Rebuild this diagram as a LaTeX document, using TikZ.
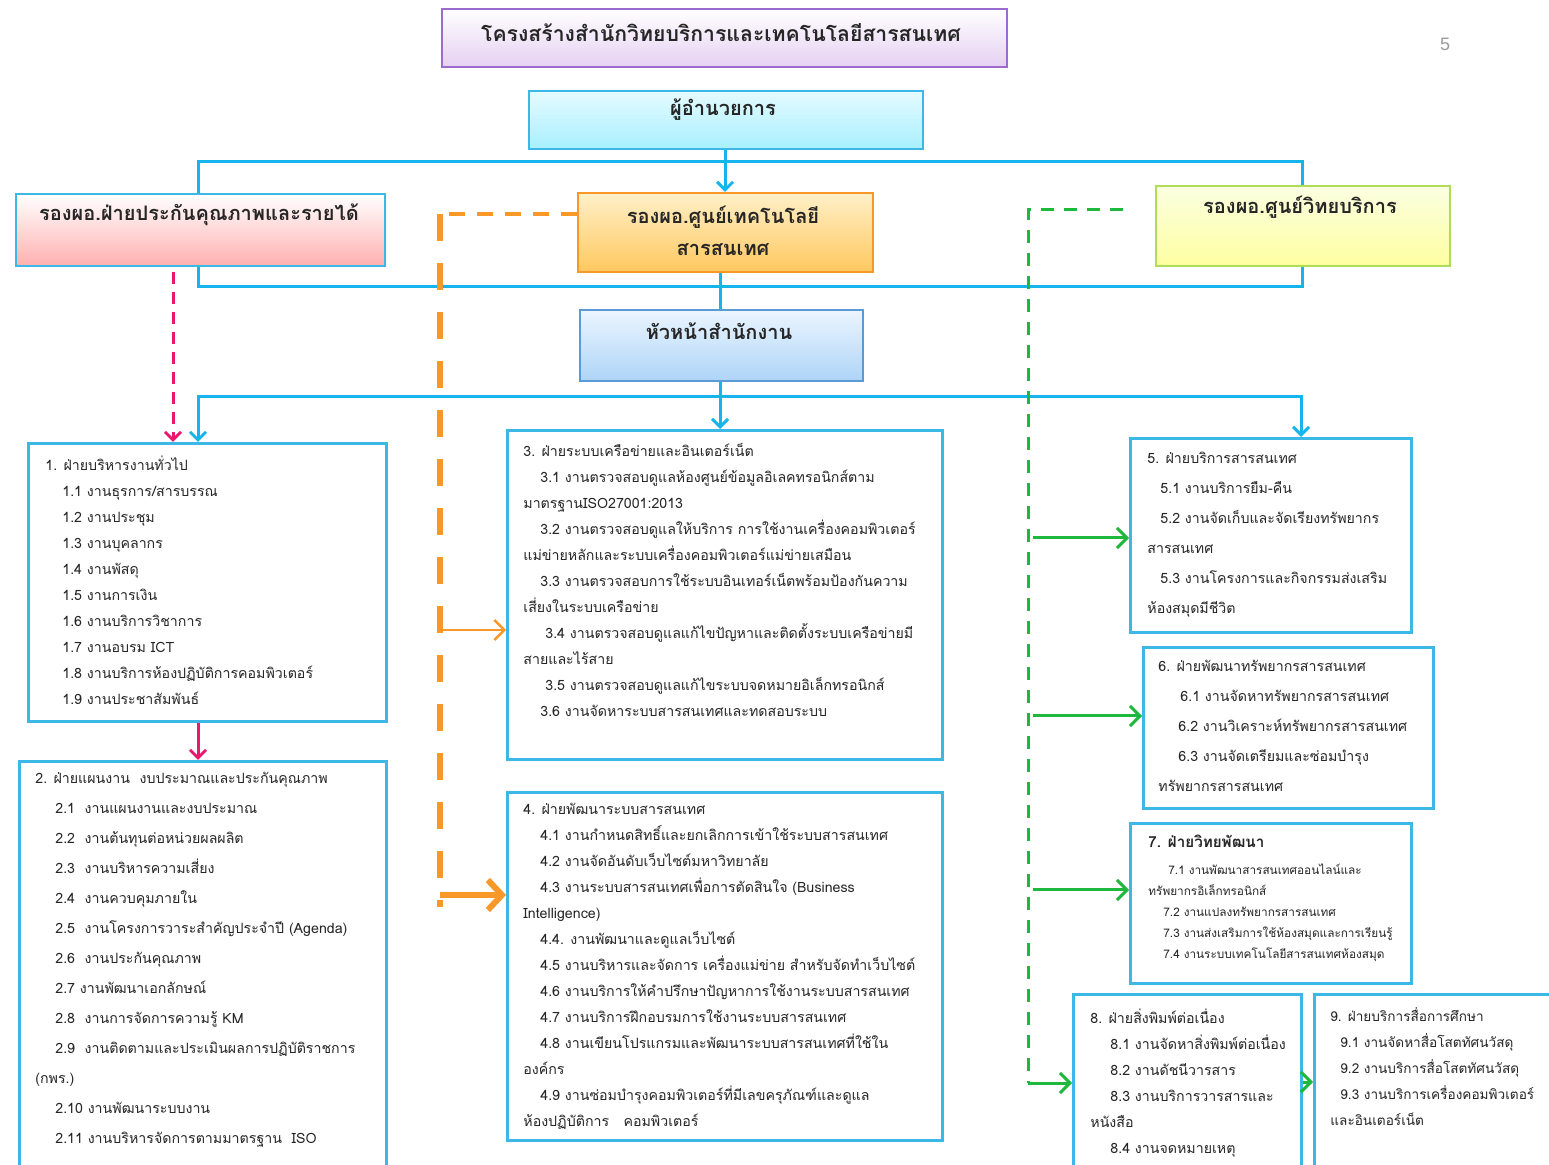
\documentclass[tikz,border=0pt]{standalone}
\usepackage{fontspec}
\newfontfamily\thai[Script=Thai]{Loma}
\usetikzlibrary{arrows.meta,calc}
\definecolor{cyanln}{RGB}{22,180,236}
\definecolor{boxcyan}{RGB}{60,184,230}
\definecolor{pinkln}{RGB}{232,24,110}
\definecolor{orangeln}{RGB}{247,152,40}
\definecolor{greenln}{RGB}{30,185,60}
\definecolor{purpleln}{RGB}{155,107,206}
\definecolor{lav}{RGB}{229,208,242}
\definecolor{dircyan}{RGB}{168,240,255}
\definecolor{pinkfill}{RGB}{255,176,176}
\definecolor{orangetop}{RGB}{255,240,200}
\definecolor{orangebot}{RGB}{255,200,95}
\definecolor{yeltop}{RGB}{250,255,225}
\definecolor{yelbot}{RGB}{255,255,160}
\definecolor{yelborder}{RGB}{175,220,90}
\definecolor{bluetop}{RGB}{235,245,255}
\definecolor{bluebot}{RGB}{174,212,247}
\definecolor{blueborder}{RGB}{91,155,213}
\newcommand{\hin}[1]{\hspace*{#1}}
\tikzset{
  unitbox/.style={draw=boxcyan, line width=1.5pt, fill=white, rectangle, inner sep=0pt, anchor=north west},
  topbox/.style={rectangle, inner sep=0pt, anchor=north west, line width=1pt},
  txt/.style={font=\thai\fontsize{7.1}{#1}\selectfont, align=left, inner sep=0pt, anchor=north west, text=black!85},
  toptxt/.style={font=\thai\bfseries\fontsize{10}{16}\selectfont, align=center, inner sep=0pt, text=black!85},
  cyanline/.style={draw=cyanln, line width=1.5pt},
  cyanarrow/.style={draw=cyanln, line width=1.5pt, -{Straight Barb[length=4pt,width=8pt]}},
  pinkdash/.style={draw=pinkln, line width=1.5pt, dash pattern=on 6pt off 4pt, -{Straight Barb[length=4pt,width=8pt]}},
  pinkarrow/.style={draw=pinkln, line width=1.5pt, -{Straight Barb[length=4pt,width=8pt]}},
  orangedashh/.style={draw=orangeln, line width=2pt, dash pattern=on 8pt off 6pt},
  orangedashv/.style={draw=orangeln, line width=3.3pt, dash pattern=on 13.5pt off 11pt},
  orangethin/.style={draw=orangeln, line width=1.2pt, -{Straight Barb[length=5pt,width=10pt]}},
  orangethick/.style={draw=orangeln, line width=3pt, -{Straight Barb[length=7pt,width=15pt]}},
  greendash/.style={draw=greenln, line width=1.5pt, dash pattern=on 6.5pt off 5pt},
  greenarrow/.style={draw=greenln, line width=1.5pt, -{Straight Barb[length=5pt,width=10pt]}},
}
\begin{document}
\begin{tikzpicture}[x=0.5pt,y=-0.5pt]
\useasboundingbox (0,0) rectangle (1549,1165);
\fill[white] (0,0) rectangle (1549,1165);
\clip (0,0) rectangle (1549,1165);

% ---------- top boxes ----------
\node[topbox, draw=purpleln, top color=white, bottom color=lav, minimum width=282.5pt, minimum height=29pt] (title) at (441,8) {};
\node[toptxt, font=\thai\bfseries\fontsize{10.6}{16}\selectfont] (titletxt) at (721,33) {โครงสร้างสำนักวิทยบริการและเทคโนโลยีสารสนเทศ};

\node[topbox, draw=boxcyan, top color=white!70!dircyan, bottom color=dircyan, minimum width=197pt, minimum height=29pt] (dir) at (528,90) {};
\node[toptxt] (dirtxt) at (723,110) {ผู้อำนวยการ};

\node[topbox, draw=boxcyan, top color=white, bottom color=pinkfill, minimum width=184.5pt, minimum height=36pt] (vpl) at (15,193) {};
\node[toptxt] (vpltxt) at (199,215) {รองผอ.ฝ่ายประกันคุณภาพและรายได้};

\node[topbox, draw=orangeln, top color=orangetop, bottom color=orangebot, minimum width=147.5pt, minimum height=39.5pt] (vpc) at (577,192) {};
\node[toptxt] (vpctxt) at (723,231) {รองผอ.ศูนย์เทคโนโลยี\\สารสนเทศ};

\node[topbox, draw=yelborder, top color=yeltop, bottom color=yelbot, minimum width=147pt, minimum height=40pt] (vpr) at (1155,185) {};
\node[toptxt] (vprtxt) at (1300,207) {รองผอ.ศูนย์วิทยบริการ};

\node[topbox, draw=blueborder, top color=bluetop, bottom color=bluebot, minimum width=141.5pt, minimum height=35.5pt] (head) at (579,309) {};
\node[toptxt] (headtxt) at (719,331) {หัวหน้าสำนักงาน};

\node[inner sep=0pt, font=\fontspec{Liberation Sans}\fontsize{9}{10}\selectfont, text=black!40] (pnum) at (1445,44) {5};

% ---------- unit boxes ----------
\node[unitbox, minimum width=179pt, minimum height=139pt] (b1) at (27,442) {};
\node[unitbox, minimum width=183.5pt, minimum height=210pt] (b2) at (18,760) {};
\node[unitbox, minimum width=217.5pt, minimum height=164.5pt] (b3) at (506,429) {};
\node[unitbox, minimum width=217.5pt, minimum height=174pt] (b4) at (506,791) {};
\node[unitbox, minimum width=140.5pt, minimum height=97pt] (b5) at (1129,437) {};
\node[unitbox, minimum width=145pt, minimum height=80.5pt] (b6) at (1142,646) {};
\node[unitbox, minimum width=140.5pt, minimum height=80pt] (b7) at (1129,822) {};
\node[unitbox, minimum width=114pt, minimum height=95pt] (b8) at (1072,993) {};
\node[unitbox, minimum width=125pt, minimum height=95pt] (b9) at (1313,993) {};

% ---------- texts ----------
\node[txt=13pt] (t1) at (45,455) {1. ฝ่ายบริหารงานทั่วไป\\
\hin{8.5pt}1.1 งานธุรการ/สารบรรณ\\
\hin{8.5pt}1.2 งานประชุม\\
\hin{8.5pt}1.3 งานบุคลากร\\
\hin{8.5pt}1.4 งานพัสดุ\\
\hin{8.5pt}1.5 งานการเงิน\\
\hin{8.5pt}1.6 งานบริการวิชาการ\\
\hin{8.5pt}1.7 งานอบรม ICT\\
\hin{8.5pt}1.8 งานบริการห้องปฏิบัติการคอมพิวเตอร์\\
\hin{8.5pt}1.9 งานประชาสัมพันธ์};

\node[txt=15pt] (t2) at (35,772) {2. ฝ่ายแผนงาน~~งบประมาณและประกันคุณภาพ\\
\hin{10pt}2.1~~งานแผนงานและงบประมาณ\\
\hin{10pt}2.2~~งานต้นทุนต่อหน่วยผลผลิต\\
\hin{10pt}2.3~~งานบริหารความเสี่ยง\\
\hin{10pt}2.4~~งานควบคุมภายใน\\
\hin{10pt}2.5~~งานโครงการวาระสำคัญประจำปี (Agenda)\\
\hin{10pt}2.6~~งานประกันคุณภาพ\\
\hin{10pt}2.7 งานพัฒนาเอกลักษณ์\\
\hin{10pt}2.8~~งานการจัดการความรู้ KM\\
\hin{10pt}2.9~~งานติดตามและประเมินผลการปฏิบัติราชการ\\
(กพร.)\\
\hin{10pt}2.10 งานพัฒนาระบบงาน\\
\hin{10pt}2.11 งานบริหารจัดการตามมาตรฐาน~~ISO};

\node[txt=13pt] (t3) at (523,443) {3. ฝ่ายระบบเครือข่ายและอินเตอร์เน็ต\\
\hin{8.5pt}3.1 งานตรวจสอบดูแลห้องศูนย์ข้อมูลอิเลคทรอนิกส์ตาม\\
มาตรฐานISO27001:2013\\
\hin{8.5pt}3.2 งานตรวจสอบดูแลให้บริการ การใช้งานเครื่องคอมพิวเตอร์\\
แม่ข่ายหลักและระบบเครื่องคอมพิวเตอร์แม่ข่ายเสมือน\\
\hin{8.5pt}3.3 งานตรวจสอบการใช้ระบบอินเทอร์เน็ตพร้อมป้องกันความ\\
เสี่ยงในระบบเครือข่าย\\
\hin{11pt}3.4 งานตรวจสอบดูแลแก้ไขปัญหาและติดตั้งระบบเครือข่ายมี\\
สายและไร้สาย\\
\hin{11pt}3.5 งานตรวจสอบดูแลแก้ไขระบบจดหมายอิเล็กทรอนิกส์\\
\hin{8.5pt}3.6 งานจัดหาระบบสารสนเทศและทดสอบระบบ};

\node[txt=13pt] (t4) at (523,803) {4. ฝ่ายพัฒนาระบบสารสนเทศ\\
\hin{8.5pt}4.1 งานกำหนดสิทธิ์และยกเลิกการเข้าใช้ระบบสารสนเทศ\\
\hin{8.5pt}4.2 งานจัดอันดับเว็บไซต์มหาวิทยาลัย\\
\hin{8.5pt}4.3 งานระบบสารสนเทศเพื่อการตัดสินใจ (Business\\
Intelligence)\\
\hin{8.5pt}4.4. งานพัฒนาและดูแลเว็บไซต์\\
\hin{8.5pt}4.5 งานบริหารและจัดการ เครื่องแม่ข่าย สำหรับจัดทำเว็บไซต์\\
\hin{8.5pt}4.6 งานบริการให้คำปรึกษาปัญหาการใช้งานระบบสารสนเทศ\\
\hin{8.5pt}4.7 งานบริการฝึกอบรมการใช้งานระบบสารสนเทศ\\
\hin{8.5pt}4.8 งานเขียนโปรแกรมและพัฒนาระบบสารสนเทศที่ใช้ใน\\
องค์กร\\
\hin{8.5pt}4.9 งานซ่อมบำรุงคอมพิวเตอร์ที่มีเลขครุภัณฑ์และดูแล\\
ห้องปฏิบัติการ~~~คอมพิวเตอร์};

\node[txt=15pt] (t5) at (1147,452) {5. ฝ่ายบริการสารสนเทศ\\
\hin{6.5pt}5.1 งานบริการยืม-คืน\\
\hin{6.5pt}5.2 งานจัดเก็บและจัดเรียงทรัพยากร\\
สารสนเทศ\\
\hin{6.5pt}5.3 งานโครงการและกิจกรรมส่งเสริม\\
ห้องสมุดมีชีวิต};

\node[txt=15pt] (t6) at (1158,660) {6. ฝ่ายพัฒนาทรัพยากรสารสนเทศ\\
\hin{11pt}6.1 งานจัดหาทรัพยากรสารสนเทศ\\
\hin{10pt}6.2 งานวิเคราะห์ทรัพยากรสารสนเทศ\\
\hin{10pt}6.3 งานจัดเตรียมและซ่อมบำรุง\\
ทรัพยากรสารสนเทศ};

\node[txt=13pt, font=\thai\bfseries\fontsize{7.6}{13}\selectfont] (t7h) at (1148,835) {7. ฝ่ายวิทยพัฒนา};
\node[txt=10.5pt, font=\thai\fontsize{5.9}{10.5}\selectfont] (t7) at (1148,864) {\hin{10pt}7.1 งานพัฒนาสารสนเทศออนไลน์และ\\
ทรัพยากรอิเล็กทรอนิกส์\\
\hin{7.5pt}7.2 งานแปลงทรัพยากรสารสนเทศ\\
\hin{7.5pt}7.3 งานส่งเสริมการใช้ห้องสมุดและการเรียนรู้\\
\hin{7.5pt}7.4 งานระบบเทคโนโลยีสารสนเทศห้องสมุด};

\node[txt=13pt] (t8) at (1090,1008) {8. ฝ่ายสิ่งพิมพ์ต่อเนื่อง\\
\hin{10pt}8.1 งานจัดหาสิ่งพิมพ์ต่อเนื่อง\\
\hin{10pt}8.2 งานดัชนีวารสาร\\
\hin{10pt}8.3 งานบริการวารสารและ\\
หนังสือ\\
\hin{10pt}8.4 งานจดหมายเหตุ};

\node[txt=13pt, font=\thai\fontsize{6.8}{13}\selectfont] (t9) at (1330,1007) {9. ฝ่ายบริการสื่อการศึกษา\\
\hin{5pt}9.1 งานจัดหาสื่อโสตทัศนวัสดุ\\
\hin{5pt}9.2 งานบริการสื่อโสตทัศนวัสดุ\\
\hin{5pt}9.3 งานบริการเครื่องคอมพิวเตอร์\\
และอินเตอร์เน็ต};

% ---------- helper coordinates ----------
\coordinate (bar1) at (725,162);
\coordinate (bar2) at (720,287);
\coordinate (bar3) at (720,397);
\coordinate (xl) at (198,0);
\coordinate (xr) at (1302,0);
\coordinate (pk) at (173,0);
\coordinate (oc) at (440,214);
\coordinate (o3) at (440,630);
\coordinate (o4) at (440,895);
\coordinate (gc) at (1028,210);
\coordinate (g8) at (1028,1083);
\coordinate (g5) at (1033,538);
\coordinate (g6) at (1033,716);
\coordinate (g7) at (1033,890);
\coordinate (g9) at (0,1082);

% ---------- cyan connectors ----------
\draw[cyanline] (vpl.north -| xl) |- (bar1) -| (vpr.north -| xr);
\draw[cyanarrow] (dir.south -| bar1) -- (vpc.north -| bar1);
\draw[cyanline] (vpl.south -| xl) |- (bar2) -| (vpr.south -| xr);
\draw[cyanline] (vpc.south -| bar2) -- (head.north -| bar2);
\draw[cyanarrow] (head.south -| bar3) -- (b3.north -| bar3);
\draw[cyanarrow] (bar3) -| (b1.north -| xl);
\draw[cyanarrow] (bar3) -| ([xshift=-0.5pt]b5.north -| xr);

% ---------- pink ----------
\draw[pinkdash] ([yshift=-2.5pt]vpl.south -| pk) -- (b1.north -| pk);
\draw[pinkarrow] (b1.south -| xl) -- (b2.north -| xl);

% ---------- orange ----------
\draw[orangedashh] (vpc.west |- oc) -- (oc);
\draw[orangedashv] (oc) -- ([yshift=-6pt]o4);
\draw[orangethin] (o3) -- (b3.west |- o3);
\draw[orangethick] (o4) -- (b4.west |- o4);

% ---------- green ----------
\draw[greendash] ([xshift=-16pt]vpr.west |- gc) -- (gc) -- (g8);
\draw[greenarrow] (g8) -- (b8.west |- g8);
\draw[greenarrow] (g5) -- (b5.west |- g5);
\draw[greenarrow] (g6) -- (b6.west |- g6);
\draw[greenarrow] (g7) -- (b7.west |- g7);
\draw[greenarrow] (b8.east |- g9) -- (b9.west |- g9);
\end{tikzpicture}
\end{document}
